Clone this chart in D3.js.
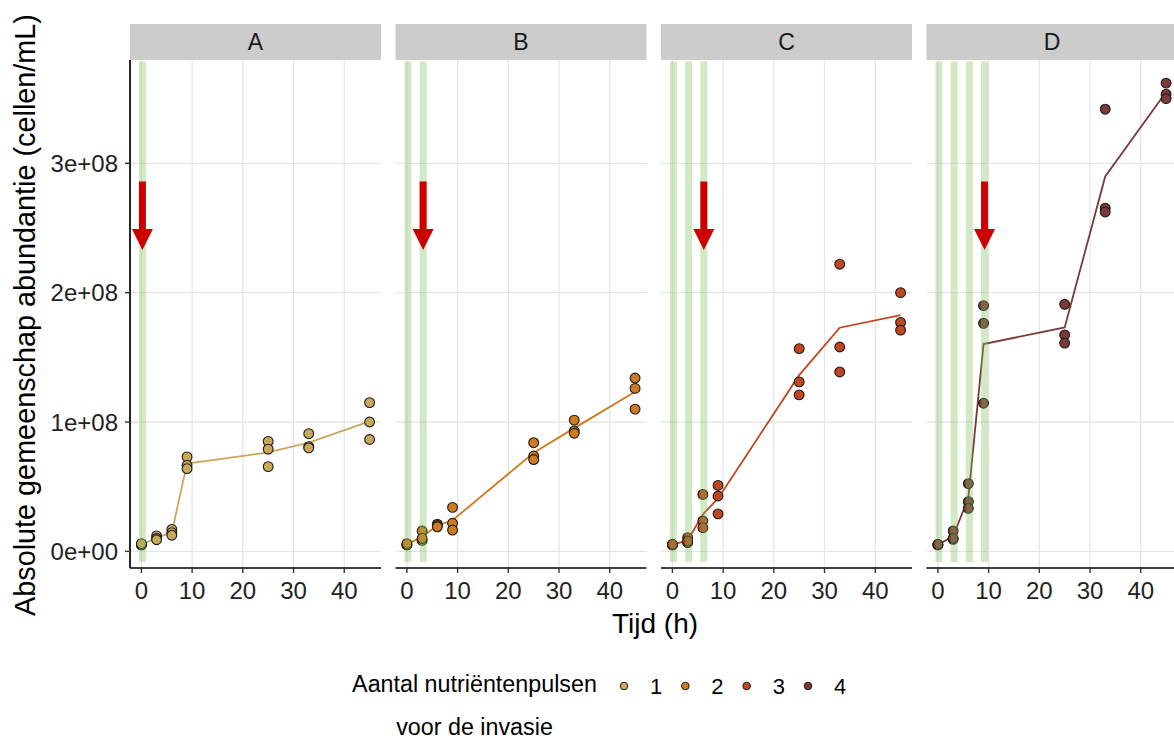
<!DOCTYPE html>
<html>
<head>
<meta charset="utf-8">
<script src="https://cdn.jsdelivr.net/npm/d3@7"></script>
<style>
	body { margin: 0; background: #fff; }
	svg { display: block; font-family: "Liberation Sans", Arial, sans-serif; }
</style>
</head>
<body>
<svg id="chart" width="1174" height="742"></svg>
<script>
// Facets and the number of nutrient pulses before invasion
const panels = ["A", "B", "C", "D"];
const pulseCounts = [1, 2, 3, 4];
const pulseTimes = [0, 3, 6, 9];
const sampleTimes = [0, 3, 6, 9, 25, 33, 45];
const xTicks = [0, 10, 20, 30, 40];
const yTicks = [0, 1e8, 2e8, 3e8];
const yTickLabels = ["0e+00", "1e+08", "2e+08", "3e+08"];
const colors = ["#c9a75b", "#cf7a1e", "#c0461f", "#7b3a37"];

// Abundance (million cells/mL), three replicates per sample time
const abundanceA = [[5, 5, 6], [12, 10, 9], [17, 14.5, 12.5], [73, 66.5, 64], [85, 79, 65.5], [91, 81, 80], [115, 100, 86.5]];
const abundanceB = [[5, 5, 6], [15.7, 8.5, 10], [21, 20, 19], [34, 21.7, 16.5], [84, 73.7, 71], [101.5, 93, 91.3], [134, 126, 110]];
const abundanceC = [[5, 5, 5.5], [10.6, 6.7, 8], [44, 23.5, 18.3], [51, 42.8, 29], [156.7, 131, 121], [222, 158, 138.7], [200, 177, 171]];
const abundanceD = [[5, 5, 5.5], [15.7, 9.3, 10], [52.3, 38.4, 33.3], [190, 176.3, 114.5], [191, 167.3, 161], [341.8, 265.3, 262.4], [362, 353.4, 350]];
const abundances = [abundanceA, abundanceB, abundanceC, abundanceD];

// Invasion arrow (top and tip, cells/mL)
const arrowTop = 2.86e8;
const arrowTip = 2.33e8;

const svg = d3.select("#chart");

// Panel geometry
const panelLeft = 130, panelWidth = 251, panelStep = 265.5;
const panelTop = 60, panelBottom = 568;
const stripTop = 24;

const allValues = abundances.flat(2).map(v => v * 1e6);
const yMin = d3.min(allValues), yMax = d3.max(allValues);
const yPad = (yMax - yMin) * 0.05;
const y = d3.scaleLinear().domain([yMin - yPad, yMax + yPad]).range([panelBottom, panelTop]);
const x = d3.scaleLinear().domain([-2.25, 47.25]).range([0, panelWidth]);

panels.forEach((panel, p) => {
	const g = svg.append("g").attr("transform", `translate(${panelLeft + p * panelStep},0)`);
	const color = colors[p];

	// Strip
	g.append("rect").attr("x", 0).attr("y", stripTop).attr("width", panelWidth).attr("height", panelTop - stripTop).attr("fill", "#cccccc");
	g.append("text").attr("x", panelWidth / 2).attr("y", (stripTop + panelTop) / 2).attr("dy", "0.36em")
		.attr("text-anchor", "middle").attr("font-size", 23).attr("fill", "#1a1a1a").text(panel);

	// Grid
	g.selectAll("line.gx").data(xTicks).join("line").attr("class", "gx")
		.attr("x1", d => x(d)).attr("x2", d => x(d)).attr("y1", panelTop).attr("y2", panelBottom)
		.attr("stroke", "#e6e6e6").attr("stroke-width", 1.3);
	g.selectAll("line.gy").data(yTicks).join("line").attr("class", "gy")
		.attr("x1", 0).attr("x2", panelWidth).attr("y1", d => y(d)).attr("y2", d => y(d))
		.attr("stroke", "#e6e6e6").attr("stroke-width", 1.3);

	// Data
	const points = [];
	abundances[p].forEach((reps, i) => reps.forEach(v => points.push({ t: sampleTimes[i], v: v * 1e6 })));
	const means = sampleTimes.map((t, i) => ({ t, v: d3.mean(abundances[p][i]) * 1e6 }));

	g.append("path").datum(means)
		.attr("d", d3.line().x(d => x(d.t)).y(d => y(d.v)))
		.attr("fill", "none").attr("stroke", color).attr("stroke-width", 1.8);

	g.selectAll("circle.pt").data(points).join("circle").attr("class", "pt")
		.attr("cx", d => x(d.t)).attr("cy", d => y(d.v)).attr("r", 4.9)
		.attr("fill", color).attr("stroke", "#1a1a1a").attr("stroke-width", 1.1);

	// Nutrient pulses
	const pulses = pulseTimes.slice(0, pulseCounts[p]);
	g.selectAll("rect.pulse").data(pulses).join("rect").attr("class", "pulse")
		.attr("x", d => x(d) - 2.5).attr("width", 7)
		.attr("y", panelTop + 1.5).attr("height", 562 - panelTop - 1.5)
		.attr("fill", "#7fc05a").attr("fill-opacity", 0.35);

	// Invasion arrow
	const ax = x(pulses[pulses.length - 1]) + 1;
	const headLen = 21, headHalf = 10.5, shaftHalf = 3.5;
	const yTop = y(arrowTop), yTipPx = y(arrowTip);
	g.append("path")
		.attr("d", `M${ax - shaftHalf},${yTop} L${ax + shaftHalf},${yTop} L${ax + shaftHalf},${yTipPx - headLen} L${ax + headHalf},${yTipPx - headLen} L${ax},${yTipPx} L${ax - headHalf},${yTipPx - headLen} L${ax - shaftHalf},${yTipPx - headLen} Z`)
		.attr("fill", "#cc0000");

	// X axis
	const xAxis = g.append("g").attr("transform", `translate(0,${panelBottom})`);
	xAxis.append("line").attr("x1", 0).attr("x2", panelWidth).attr("stroke", "#000").attr("stroke-width", 1.7);
	xAxis.selectAll("line.tick").data(xTicks).join("line").attr("class", "tick")
		.attr("x1", d => x(d)).attr("x2", d => x(d)).attr("y1", 0).attr("y2", 5)
		.attr("stroke", "#333").attr("stroke-width", 1.4);
	xAxis.selectAll("text").data(xTicks).join("text")
		.attr("x", d => x(d)).attr("y", 31).attr("text-anchor", "middle")
		.attr("font-size", 24).attr("fill", "#222").text(d => d);

	// Y axis only on first panel
	if (p === 0) {
		g.append("line").attr("x1", 0).attr("x2", 0).attr("y1", panelTop).attr("y2", panelBottom)
			.attr("stroke", "#000").attr("stroke-width", 1.7);
		g.selectAll("line.ytick").data(yTicks).join("line").attr("class", "ytick")
			.attr("x1", -5).attr("x2", 0).attr("y1", d => y(d)).attr("y2", d => y(d))
			.attr("stroke", "#333").attr("stroke-width", 1.4);
		g.selectAll("text.ylab").data(yTicks).join("text").attr("class", "ylab")
			.attr("x", -12).attr("y", d => y(d)).attr("dy", "0.36em").attr("text-anchor", "end")
			.attr("font-size", 24).attr("fill", "#222").text((d, i) => yTickLabels[i]);
	}
});

// Axis titles
svg.append("text").attr("x", 655).attr("y", 633).attr("text-anchor", "middle")
	.attr("font-size", 28).attr("fill", "#000").text("Tijd (h)");
svg.append("text").attr("transform", "translate(35,315) rotate(-90)").attr("text-anchor", "middle")
	.attr("font-size", 28.8).attr("fill", "#000").text("Absolute gemeenschap abundantie (cellen/mL)");

// Legend
const legend = svg.append("g");
legend.append("text").attr("x", 474.5).attr("y", 692).attr("text-anchor", "middle")
	.attr("font-size", 23.3).attr("fill", "#000").text("Aantal nutriëntenpulsen");
legend.append("text").attr("x", 474.5).attr("y", 735).attr("text-anchor", "middle")
	.attr("font-size", 23.3).attr("fill", "#000").text("voor de invasie");
const keyX = d3.scalePoint().domain(pulseCounts).range([624, 808]);
legend.selectAll("circle").data(pulseCounts).join("circle")
	.attr("cx", d => keyX(d)).attr("cy", 686).attr("r", 3.8)
	.attr("fill", (d, i) => colors[i]).attr("stroke", "#1a1a1a").attr("stroke-width", 1);
legend.selectAll("text.key").data(pulseCounts).join("text").attr("class", "key")
	.attr("x", d => keyX(d) + 26).attr("y", 694).attr("font-size", 22).attr("fill", "#000").text(d => d);
</script>
</body>
</html>
